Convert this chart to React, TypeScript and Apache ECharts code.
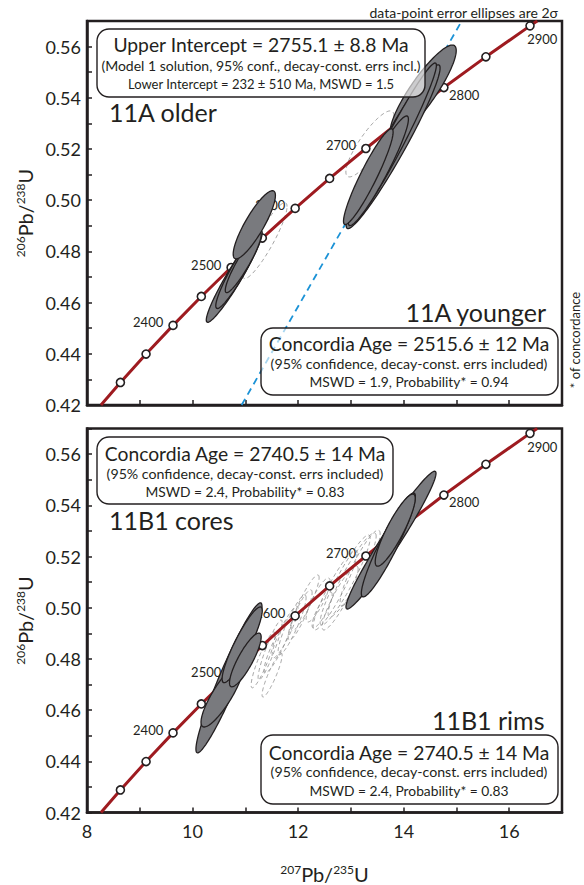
import React, { useEffect, useRef } from "react";
import * as echarts from "echarts";

// ---------- data ----------
const X_MIN = 8;
const X_MAX = 17;
const Y_MIN = 0.42;
const Y_MAX = 0.57;

// Concordia age markers (Ma) and their coordinates
const concAges = [2300, 2350, 2400, 2450, 2500, 2550, 2600, 2650, 2700, 2750, 2800, 2850, 2900];
const concX = [8.633, 9.119, 9.63, 10.166, 10.73, 11.322, 11.944, 12.597, 13.284, 14.005, 14.762, 15.558, 16.394];
const concY = [0.4288, 0.4399, 0.4511, 0.4624, 0.4737, 0.4852, 0.4968, 0.5085, 0.5202, 0.532, 0.544, 0.556, 0.5681];
const concStart = [8.265, 0.42];
const concEnd = [16.53, 0.57];
const labeledAges = [2400, 2500, 2600, 2700, 2800, 2900];

// Discordia (upper-intercept) line ends, top panel
const discordiaX = [10.93, 15.1];
const discordiaY = [0.42, 0.57];

// Error ellipses: [207Pb/235U, 206Pb/238U, half-width x, half-height y, correlation]
const younger11A = [
  [10.79, 0.4702, 0.53, 0.0179, 0.95],
  [10.86, 0.4725, 0.42, 0.0148, 0.93],
  [10.96, 0.4756, 0.34, 0.0117, 0.92],
  [11.17, 0.4904, 0.4, 0.0133, 0.86],
];
const older11A = [
  [14.37, 0.5427, 0.626, 0.0179, 0.88],
  [13.8, 0.5209, 0.89, 0.032, 0.96],
  [13.82, 0.5224, 0.8, 0.0312, 0.97],
  [13.52, 0.5115, 0.57, 0.0214, 0.94],
  [13.33, 0.5092, 0.47, 0.0187, 0.93],
];
const excluded11A = [
  [11.37, 0.4842, 0.42, 0.0148, 0.9],
  [13.36, 0.522, 0.455, 0.0129, 0.85],
];
const cores11B1 = [
  [10.69, 0.4726, 0.626, 0.0293, 0.95],
  [10.56, 0.4659, 0.4, 0.0125, 0.85],
  [10.94, 0.4855, 0.38, 0.0148, 0.9],
  [11.0, 0.4796, 0.3, 0.0105, 0.85],
];
const rims11B1 = [
  [13.76, 0.5264, 0.853, 0.0269, 0.97],
  [13.71, 0.5245, 0.512, 0.0203, 0.93],
  [13.84, 0.5303, 0.379, 0.0141, 0.88],
];
const excluded11B1 = [
  [11.337, 0.4796, 0.227, 0.0109, 0.9],
  [11.469, 0.4835, 0.227, 0.0117, 0.92],
  [11.621, 0.4855, 0.265, 0.0109, 0.9],
  [11.754, 0.4905, 0.246, 0.0101, 0.9],
  [11.886, 0.4933, 0.265, 0.0117, 0.9],
  [12.038, 0.4972, 0.227, 0.0098, 0.88],
  [11.507, 0.4737, 0.19, 0.0086, 0.9],
  [12.379, 0.503, 0.227, 0.0086, 0.85],
  [12.133, 0.5019, 0.265, 0.0109, 0.9],
  [12.455, 0.4991, 0.19, 0.007, 0.85],
  [12.701, 0.5069, 0.417, 0.0156, 0.92],
  [12.891, 0.5108, 0.474, 0.0176, 0.93],
  [13.024, 0.5128, 0.455, 0.0164, 0.92],
  [13.175, 0.5155, 0.379, 0.0148, 0.9],
  [12.796, 0.5038, 0.341, 0.0125, 0.9],
];

// Texts
const noteText = "data-point error ellipses are 2σ";
const concordanceNote = "* of concordance";
const topBoxLines = [
  "Upper Intercept = 2755.1 ± 8.8 Ma",
  "(Model 1 solution, 95% conf., decay-const. errs incl.)",
  "Lower Intercept = 232 ± 510 Ma, MSWD = 1.5",
];
const youngerBoxLines = [
  "Concordia Age = 2515.6 ± 12 Ma",
  "(95% confidence, decay-const. errs included)",
  "MSWD = 1.9, Probability* = 0.94",
];
const coresBoxLines = [
  "Concordia Age = 2740.5 ± 14 Ma",
  "(95% confidence, decay-const. errs included)",
  "MSWD = 2.4, Probability* = 0.83",
];
const rimsBoxLines = [
  "Concordia Age = 2740.5 ± 14 Ma",
  "(95% confidence, decay-const. errs included)",
  "MSWD = 2.4, Probability* = 0.83",
];
const panelLabels = ["11A older", "11A younger", "11B1 cores", "11B1 rims"];

// ---------- styling ----------
const FONT = "Lato, 'Open Sans', sans-serif";
const INK = "#231f20";
const GRAY = "#797a7e";
const RED = "#9e1b20";
const BLUE = "#1b92d6";

const GRID_LEFT = 87;
const GRID_W = 475;
const grids = [
  { left: GRID_LEFT, top: 21, width: GRID_W, height: 384 },
  { left: GRID_LEFT, top: 428.5, width: GRID_W, height: 384 },
];

function ellipseSeries(data: number[][], idx: number, dashed: boolean, z: number) {
  return {
    type: "custom",
    xAxisIndex: idx,
    yAxisIndex: idx,
    z,
    silent: true,
    clip: true,
    data,
    encode: { x: 0, y: 1 },
    renderItem: (params: any, api: any) => {
      const cx = api.value(0);
      const cy = api.value(1);
      const sx = api.value(2);
      const sy = api.value(3);
      const r = api.value(4);
      const k = Math.sqrt(1 - r * r);
      const pts: number[][] = [];
      const N = 120;
      for (let i = 0; i < N; i++) {
        const t = (i / N) * Math.PI * 2;
        pts.push(api.coord([cx + sx * Math.cos(t), cy + sy * (r * Math.cos(t) + k * Math.sin(t))]));
      }
      return {
        type: "polygon",
        shape: { points: pts },
        style: dashed
          ? { fill: "none", stroke: "#8c8c8c", lineWidth: 0.8, lineDash: [4, 3] }
          : { fill: GRAY, stroke: INK, lineWidth: 1.3 },
      };
    },
  };
}

function labelFor(age: number) {
  const base = { show: true, color: INK, fontFamily: FONT, fontSize: 13 };
  if (age === 2800) return { ...base, position: [10, 12], align: "left", verticalAlign: "middle" };
  if (age === 2900) return { ...base, position: [2, 18], align: "left", verticalAlign: "middle" };
  return { ...base, position: "left", distance: 5, offset: [0, -3] };
}

function concordiaSeries(idx: number) {
  const lineData = [concStart, ...concX.map((x, i) => [x, concY[i]]), concEnd];
  const markerData = concX.map((x, i) => ({
    value: [x, concY[i]],
    label: labeledAges.includes(concAges[i])
      ? { ...labelFor(concAges[i]), formatter: String(concAges[i]) }
      : { show: false },
  }));
  return [
    {
      type: "line",
      xAxisIndex: idx,
      yAxisIndex: idx,
      z: 2,
      data: lineData,
      showSymbol: false,
      smooth: false,
      silent: true,
      lineStyle: { color: RED, width: 3 },
    },
    {
      type: "scatter",
      xAxisIndex: idx,
      yAxisIndex: idx,
      z: 3,
      data: markerData,
      symbol: "circle",
      symbolSize: 8,
      silent: true,
      itemStyle: { color: "#fff", borderColor: INK, borderWidth: 1.6, opacity: 1 },
    },
  ];
}

function box(x: number, y: number, w: number, h: number) {
  return {
    type: "rect",
    z: 50,
    shape: { x, y, width: w, height: h, r: 12 },
    style: { fill: "rgba(255,255,255,0.62)", stroke: INK, lineWidth: 1.4 },
  };
}

function txt(text: string, x: number, y: number, size: number, align = "center", extra: any = {}) {
  return {
    type: "text",
    z: 60,
    x,
    y,
    ...extra,
    style: {
      text,
      fill: INK,
      font: `${size}px ${FONT}`,
      align,
      verticalAlign: "middle",
    },
  };
}

function boxTexts(lines: string[], cx: number, ys: number[], sizes: number[]) {
  return lines.map((l, i) => txt(l, cx, ys[i], sizes[i]));
}

const axisTitleRich = {
  sup: { fontSize: 12, fontFamily: FONT, color: INK, padding: [0, 0, 9, 0] },
  b: { fontSize: 20, fontFamily: FONT, color: INK },
};

export default function App() {
  const ref = useRef<HTMLDivElement>(null);

  useEffect(() => {
    if (!ref.current) return;
    const chart = echarts.init(ref.current, undefined, { renderer: "svg" });

    const xAxes = grids.map((_, i) => ({
      type: "value",
      gridIndex: i,
      min: X_MIN,
      max: X_MAX,
      interval: 1,
      axisLine: { show: true, lineStyle: { color: INK, width: 2.5 } },
      axisTick: { show: true, inside: true, length: 5, lineStyle: { color: INK, width: 1.5 } },
      splitLine: { show: false },
      axisLabel: {
        show: i === 1,
        margin: 9,
        fontSize: 18,
        fontFamily: FONT,
        color: INK,
        formatter: (v: number) => (Math.round(v) % 2 === 0 ? String(Math.round(v)) : ""),
      },
      name: i === 1 ? "{sup|207}{b|Pb/}{sup|235}{b|U}" : "",
      nameLocation: "middle",
      nameGap: 51,
      nameTextStyle: { rich: axisTitleRich },
    }));

    const yAxes = grids.map((_, i) => ({
      type: "value",
      gridIndex: i,
      min: Y_MIN,
      max: Y_MAX,
      interval: 0.01,
      axisLine: { show: true, lineStyle: { color: INK, width: 2.5 } },
      axisTick: { show: true, inside: true, length: 5, lineStyle: { color: INK, width: 1.5 } },
      splitLine: { show: false },
      axisLabel: {
        show: true,
        margin: 6,
        fontSize: 18,
        fontFamily: FONT,
        color: INK,
        formatter: (v: number) => {
          const h = Math.round(v * 100);
          return h % 2 === 0 && h < 57 ? (h / 100).toFixed(2) : "";
        },
      },
      name: "{sup|206}{b|Pb/}{sup|238}{b|U}",
      nameLocation: "middle",
      nameGap: 50,
      nameTextStyle: { rich: axisTitleRich },
    }));

    const series: any[] = [
      ellipseSeries(excluded11A, 0, true, 1),
      {
        type: "line",
        xAxisIndex: 0,
        yAxisIndex: 0,
        z: 1,
        silent: true,
        showSymbol: false,
        data: discordiaX.map((x, i) => [x, discordiaY[i]]),
        lineStyle: { color: BLUE, width: 1.8, type: [7, 5] },
      },
      ...concordiaSeries(0),
      ellipseSeries(younger11A, 0, false, 5),
      ellipseSeries(older11A, 0, false, 5),
      ellipseSeries(excluded11B1, 1, true, 1),
      ...concordiaSeries(1),
      ellipseSeries(cores11B1, 1, false, 5),
      ellipseSeries(rims11B1, 1, false, 5),
    ];

    const graphic: any[] = [
      box(97, 29, 328, 68),
      ...boxTexts(topBoxLines, 261, [44, 65, 83.5], [19.3, 14, 13]),
      txt(panelLabels[0], 109, 112, 25, "left"),
      txt(panelLabels[1], 546, 312, 25, "right"),
      box(261, 328, 297, 67),
      ...boxTexts(youngerBoxLines, 409, [343.5, 363.5, 381.5], [19.3, 14.2, 13.8]),
      box(97, 437, 296, 67),
      ...boxTexts(coresBoxLines, 245, [453.5, 473.3, 491], [19.3, 14.2, 13.8]),
      txt(panelLabels[2], 109, 520, 25, "left"),
      txt(panelLabels[3], 544.5, 720, 25, "right"),
      box(261, 735, 297, 69),
      ...boxTexts(rimsBoxLines, 409, [752.7, 771.7, 790], [19.3, 14.2, 13.8]),
      txt(noteText, 558, 12, 14, "right"),
      txt(concordanceNote, 575, 340, 13, "center", { rotation: Math.PI / 2 }),
    ];

    chart.setOption({
      animation: false,
      backgroundColor: "#ffffff",
      textStyle: { fontFamily: FONT },
      grid: grids.map((g) => ({
        ...g,
        show: true,
        borderColor: INK,
        borderWidth: 2.5,
        backgroundColor: "transparent",
        containLabel: false,
      })),
      xAxis: xAxes,
      yAxis: yAxes,
      series,
      graphic,
    });

    return () => chart.dispose();
  }, []);

  return (
    <div
      ref={ref}
      style={{ position: "fixed", left: 0, top: 0, width: 584, height: 885, background: "#fff" }}
    />
  );
}
